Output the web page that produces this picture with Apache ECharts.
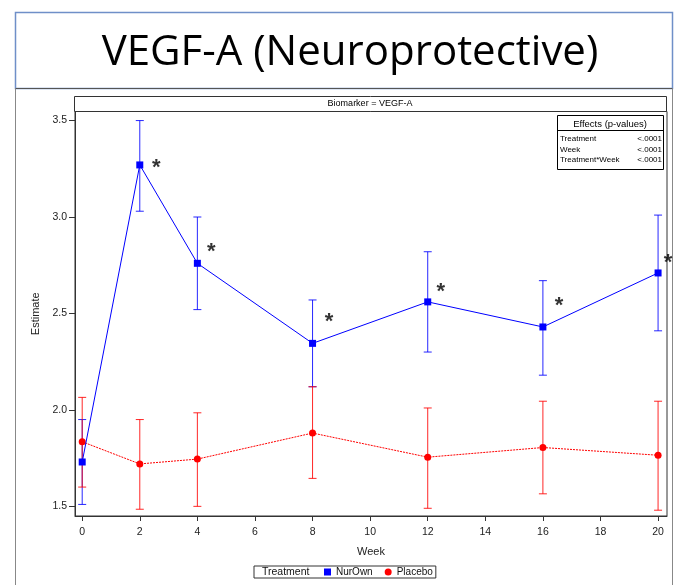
<!DOCTYPE html>
<html>
<head>
<meta charset="utf-8">
<script src="https://cdn.jsdelivr.net/npm/echarts@6/dist/echarts.min.js"></script>
<style>
  html, body { margin: 0; padding: 0; background: #fff; }
  #chart { width: 679px; height: 585px; }
</style>
</head>
<body>
<div id="chart"></div>
<script>
// Estimates with error bars by week for each treatment group
const weeks = [0, 2, 4, 8, 12, 16, 20];
const nurOwnEst  = [1.73, 3.27, 2.76, 2.345, 2.56, 2.43, 2.71];
const nurOwnLow  = [1.51, 3.03, 2.52, 2.12, 2.30, 2.18, 2.41];
const nurOwnHigh = [1.95, 3.50, 3.00, 2.57, 2.82, 2.67, 3.01];
const placeboEst  = [1.835, 1.72, 1.745, 1.88, 1.755, 1.805, 1.765];
const placeboLow  = [1.60, 1.485, 1.50, 1.645, 1.49, 1.565, 1.48];
const placeboHigh = [2.065, 1.95, 1.985, 2.12, 2.01, 2.045, 2.045];

// significance markers (week, estimate) next to the NurOwn points
const starWeeks = [2.57, 4.48, 8.57, 12.45, 16.56, 20.35];
const starVals  = [3.28, 2.846, 2.481, 2.637, 2.564, 2.787];

const xTicks = [0, 2, 4, 6, 8, 10, 12, 14, 16, 18, 20];
const yTicks = [1.5, 2.0, 2.5, 3.0, 3.5];

const effectRows = [['Treatment', '<.0001'], ['Week', '<.0001'], ['Treatment*Week', '<.0001']];

const BLUE = '#0000ff';
const RED = '#ff0000';
const FONT = '"Liberation Sans", Arial, sans-serif';

function errorSeries(name, color, low, high) {
  return {
    type: 'custom',
    name: name,
    z: 3,
    silent: true,
    data: weeks.map((w, i) => [w, low[i], high[i]]),
    renderItem: function (params, api) {
      const lo = api.coord([api.value(0), api.value(1)]);
      const hi = api.coord([api.value(0), api.value(2)]);
      const cap = 4;
      const style = { stroke: color, lineWidth: 1, opacity: 0.85 };
      return {
        type: 'group',
        children: [
          { type: 'line', shape: { x1: lo[0], y1: lo[1], x2: hi[0], y2: hi[1] }, style: style },
          { type: 'line', shape: { x1: lo[0] - cap, y1: lo[1], x2: lo[0] + cap, y2: lo[1] }, style: style },
          { type: 'line', shape: { x1: hi[0] - cap, y1: hi[1], x2: hi[0] + cap, y2: hi[1] }, style: style }
        ]
      };
    }
  };
}

const chart = echarts.init(document.getElementById('chart'), null, { renderer: 'canvas' });

const effectsGraphics = [];
const ex = 557, ey = 115, ew = 106, eh = 54;
effectsGraphics.push({ type: 'rect', shape: { x: ex + 0.5, y: ey + 0.5, width: ew, height: eh }, style: { fill: '#fff', stroke: '#000', lineWidth: 1 }, z: 20 });
effectsGraphics.push({ type: 'text', x: ex + ew / 2, y: ey + 9, style: { text: 'Effects (p-values)', font: '9.5px ' + FONT, fill: '#000', align: 'center', verticalAlign: 'middle' }, z: 21 });
effectsGraphics.push({ type: 'line', shape: { x1: ex, y1: ey + 15.5, x2: ex + ew, y2: ey + 15.5 }, style: { stroke: '#000', lineWidth: 1 }, z: 21 });
effectRows.forEach((r, i) => {
  const yy = ey + 24 + i * 10.5;
  effectsGraphics.push({ type: 'text', x: ex + 3, y: yy, style: { text: r[0], font: '8px ' + FONT, fill: '#000', align: 'left', verticalAlign: 'middle' }, z: 21 });
  effectsGraphics.push({ type: 'text', x: ex + ew - 1, y: yy, style: { text: r[1], font: '8px ' + FONT, fill: '#000', align: 'right', verticalAlign: 'middle' }, z: 21 });
});

chart.setOption({
  animation: false,
  backgroundColor: '#fff',
  textStyle: { fontFamily: FONT },
  grid: { left: 75, top: 111.5, width: 592, height: 404.5, show: true, borderColor: '#333', borderWidth: 1, backgroundColor: 'transparent' },
  xAxis: {
    type: 'value',
    min: -0.25, max: 20.31,
    name: 'Week', nameLocation: 'middle', nameGap: 30,
    nameTextStyle: { fontSize: 11, color: '#222', fontFamily: FONT },
    axisLine: { show: true, onZero: false, lineStyle: { color: '#333' } },
    axisTick: { show: true, length: 5, lineStyle: { color: '#333' }, customValues: xTicks },
    axisLabel: { color: '#222', fontSize: 10.5, margin: 11, customValues: xTicks, formatter: v => String(v) },
    splitLine: { show: false }
  },
  yAxis: {
    type: 'value',
    min: 1.45, max: 3.547,
    name: 'Estimate', nameLocation: 'middle', nameGap: 34, nameRotate: 90,
    nameTextStyle: { fontSize: 11, color: '#222', fontFamily: FONT },
    axisLine: { show: true, onZero: false, lineStyle: { color: '#333' } },
    axisTick: { show: true, length: 6, lineStyle: { color: '#333' }, customValues: yTicks },
    axisLabel: { color: '#222', fontSize: 10.5, margin: 8, customValues: yTicks, formatter: v => v.toFixed(1) },
    splitLine: { show: false }
  },
  legend: {
    left: 254, top: 566,
    padding: [1, 3, 1, 70],
    itemGap: 12, itemWidth: 7, itemHeight: 7,
    borderColor: '#333', borderWidth: 1,
    textStyle: { fontSize: 10, color: '#111', fontFamily: FONT },
    data: [
      { name: 'NurOwn', icon: 'rect' },
      { name: 'Placebo', icon: 'circle' }
    ]
  },
  graphic: [
    // title banner
    { type: 'rect', shape: { x: 15.5, y: 12.5, width: 657, height: 76 }, style: { fill: '#fff', stroke: '#6f8fc8', lineWidth: 1.5 }, z: 1 },
    { type: 'line', shape: { x1: 15.5, y1: 88.5, x2: 672.5, y2: 88.5 }, style: { stroke: '#555', lineWidth: 1 }, z: 2 },
    { type: 'line', shape: { x1: 15.5, y1: 88.5, x2: 15.5, y2: 585 }, style: { stroke: '#888', lineWidth: 1 }, z: 2 },
    { type: 'line', shape: { x1: 672.5, y1: 88.5, x2: 672.5, y2: 585 }, style: { stroke: '#888', lineWidth: 1 }, z: 2 },
    { type: 'text', x: 350, y: 53, style: { text: 'VEGF-A (Neuroprotective)', font: '42px "Open Sans", sans-serif', fill: '#000', align: 'center', verticalAlign: 'middle' }, z: 3 },
    // panel header
    { type: 'rect', shape: { x: 74.5, y: 96.5, width: 592, height: 15 }, style: { fill: '#fff', stroke: '#333', lineWidth: 1 }, z: 3 },
    { type: 'text', x: 370, y: 104, style: { text: 'Biomarker = VEGF-A', font: '9px ' + FONT, fill: '#000', align: 'center', verticalAlign: 'middle' }, z: 4 },
    // legend caption
    { type: 'text', x: 262, y: 572.5, style: { text: 'Treatment', font: '10.5px ' + FONT, fill: '#111', align: 'left', verticalAlign: 'middle' }, z: 30 }
  ].concat(effectsGraphics),
  series: [
    errorSeries('NurOwn-err', BLUE, nurOwnLow, nurOwnHigh),
    errorSeries('Placebo-err', RED, placeboLow, placeboHigh),
    {
      type: 'line', name: 'NurOwn', z: 5,
      data: weeks.map((w, i) => [w, nurOwnEst[i]]),
      symbol: 'rect', symbolSize: 7,
      itemStyle: { color: BLUE },
      lineStyle: { color: BLUE, width: 1 }
    },
    {
      type: 'line', name: 'Placebo', z: 4,
      data: weeks.map((w, i) => [w, placeboEst[i]]),
      symbol: 'circle', symbolSize: 7,
      itemStyle: { color: RED },
      lineStyle: { color: RED, width: 1, type: [2, 1] }
    },
    {
      type: 'scatter', name: 'sig', z: 6, silent: true, clip: false,
      data: starWeeks.map((w, i) => [w, starVals[i]]),
      symbolSize: 0,
      label: { show: true, formatter: '*', position: 'inside', fontSize: 22, fontWeight: 'bold', color: '#000', offset: [0, 5] }
    }
  ]
});
</script>
</body>
</html>
